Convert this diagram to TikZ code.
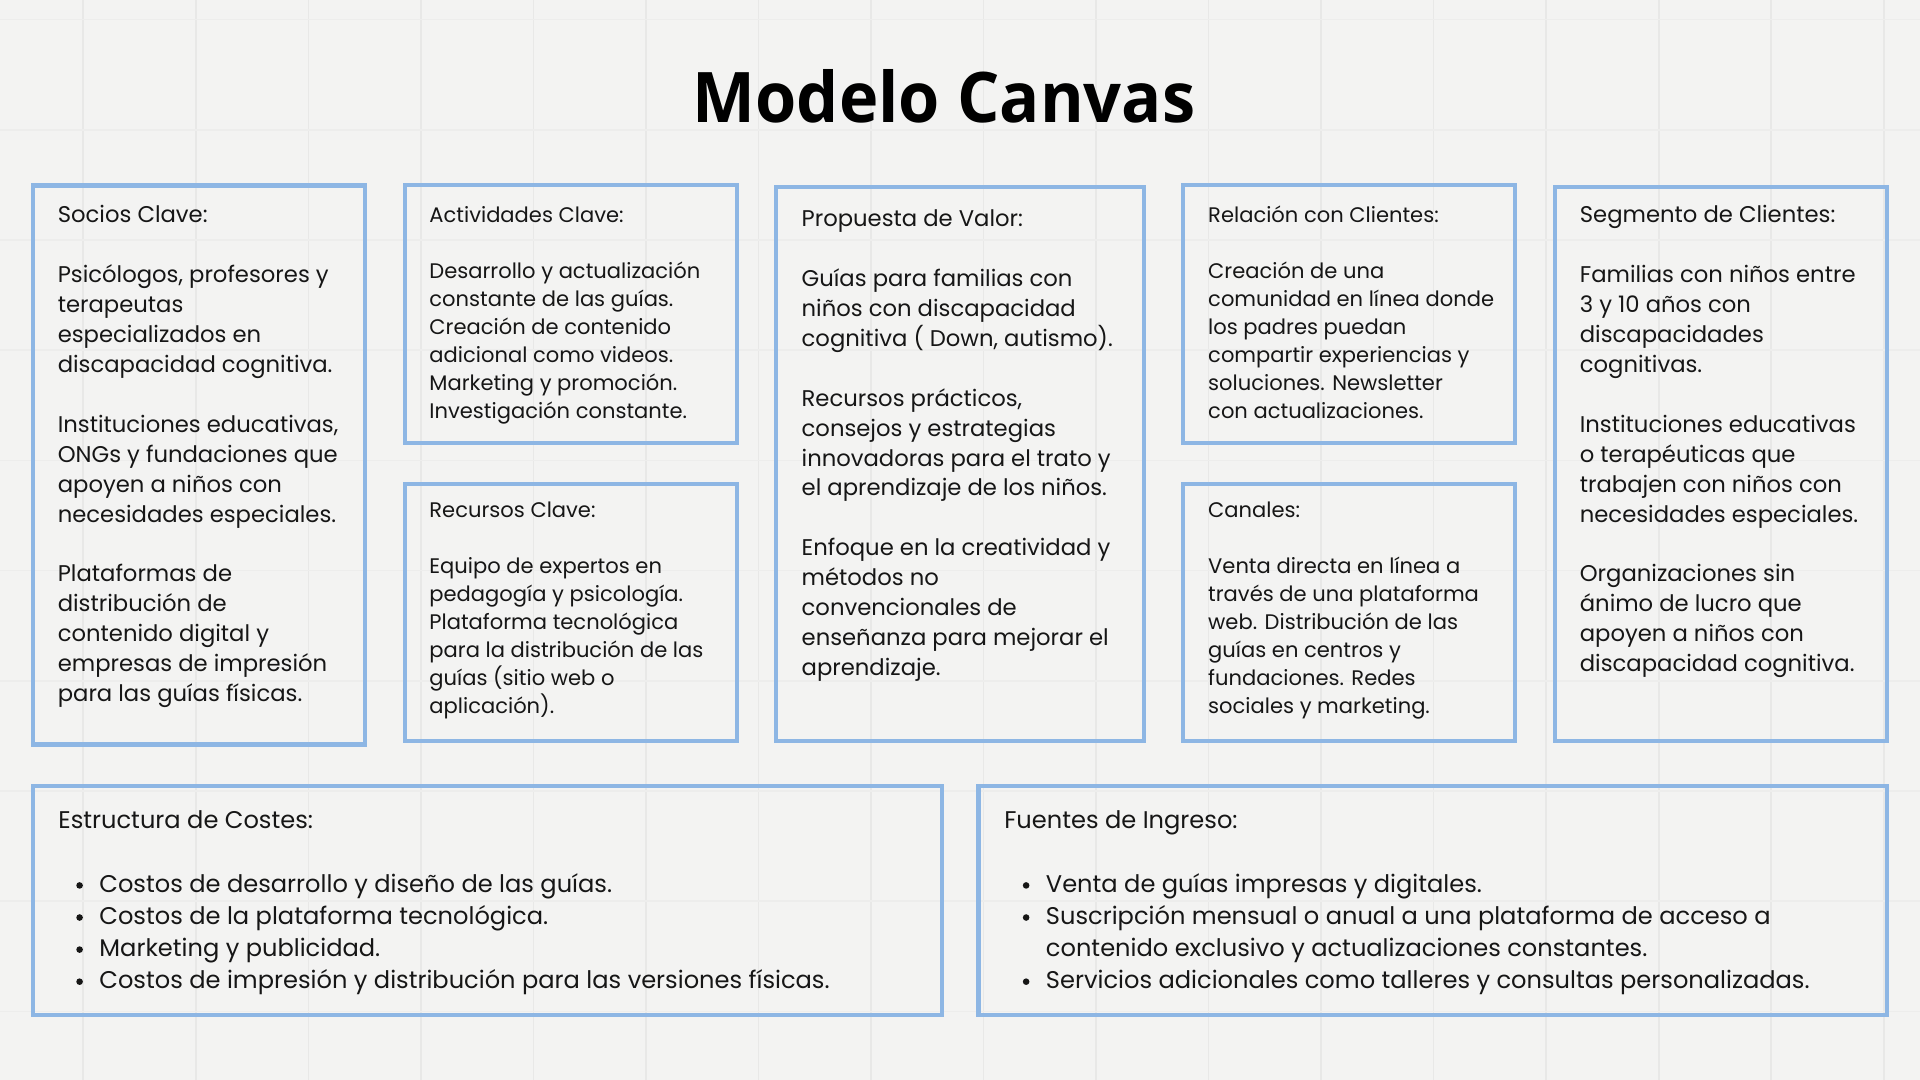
\documentclass[tikz,border=0pt]{standalone}
\usepackage{fontspec}
\setmainfont{Poppins}
\newfontfamily\titlefont{Open Sans}
\definecolor{bg}{RGB}{243,243,242}
\definecolor{gridc}{RGB}{232,232,231}
\definecolor{gridh}{RGB}{237,237,236}
\definecolor{framec}{RGB}{141,182,228}
\definecolor{ink}{RGB}{22,22,22}
\tikzset{
  boxframe/.style={draw=framec, line width=3.5pt},
  gridv/.style={draw=gridc, line width=1.3pt},
  gridhl/.style={draw=gridh, line width=1.3pt},
  txtA/.style={anchor=base west, inner sep=0pt, text=ink, font=\fontsize{18.55}{22}\selectfont},
  txtB/.style={anchor=base west, inner sep=0pt, text=ink, font=\fontsize{17.2}{20}\selectfont},
  txtC/.style={anchor=base west, inner sep=0pt, text=ink, font=\fontsize{19.7}{23}\selectfont},
  bulletdot/.style={fill=ink},
  titletxt/.style={anchor=base, inner sep=0pt, text=black, xscale=0.955, font=\titlefont\bfseries\fontsize{57}{62}\selectfont}
}
\newcommand\linesat[6]{%
  \foreach \i/\t in {#6} {\node[#2] (#1\i) at (#3, {#4+\i*#5}) {\t};}%
}
\begin{document}
\begin{tikzpicture}[x=1pt,y=-1pt]
\useasboundingbox (0,0) rectangle (1568,882);
\fill[bg] (0,0) rectangle (1568,882);
% faint paper grid
\foreach \k in {0,...,16} {\draw[gridv] ({68+\k*91.9},0) -- ({68+\k*91.9},882);}
\foreach \k in {0,...,9} {\draw[gridhl] (0,{16+\k*90}) -- (1568,{16+\k*90});}

% title
\node[titletxt] (title) at (771,100) {Modelo Canvas};

% frames
\draw[boxframe] (27,151.5) rectangle (298,608);
\draw[boxframe] (331,151) rectangle (602,362);
\draw[boxframe] (331,395) rectangle (602,605);
\draw[boxframe] (634,153) rectangle (934,605);
\draw[boxframe] (966,151) rectangle (1237,362);
\draw[boxframe] (966,395) rectangle (1237,605);
\draw[boxframe] (1270,153) rectangle (1541,605);
\draw[boxframe] (27,642) rectangle (769,829);
\draw[boxframe] (799,642) rectangle (1541,829);

% Socios Clave
\linesat{soc}{txtA}{47}{181.8}{24.45}{0/{Socios Clave:},
  2/{Psicólogos, profesores y}, 3/{terapeutas}, 4/{especializados en}, 5/{discapacidad cognitiva.},
  7/{Instituciones educativas,}, 8/{ONGs y fundaciones que}, 9/{apoyen a niños con}, 10/{necesidades especiales.},
  12/{Plataformas de}, 13/{distribución de}, 14/{contenido digital y}, 15/{empresas de impresión}, 16/{para las guías físicas.}}

% Actividades Clave
\linesat{act}{txtB}{350.5}{181.8}{22.86}{0/{Actividades Clave:},
  2/{Desarrollo y actualización}, 3/{constante de las guías.}, 4/{Creación de contenido},
  5/{adicional como videos.}, 6/{Marketing y promoción.}, 7/{Investigación constante.}}

% Recursos Clave
\linesat{rec}{txtB}{350.5}{422.8}{22.86}{0/{Recursos Clave:},
  2/{Equipo de expertos en}, 3/{pedagogía y psicología.}, 4/{Plataforma tecnológica},
  5/{para la distribución de las}, 6/{guías (sitio web o}, 7/{aplicación).}}

% Propuesta de Valor
\linesat{pro}{txtA}{654.5}{185}{24.45}{0/{Propuesta de Valor:},
  2/{Guías para familias con}, 3/{niños con discapacidad}, 4/{cognitiva ( Down, autismo).},
  6/{Recursos prácticos,}, 7/{consejos y estrategias}, 8/{innovadoras para el trato y}, 9/{el aprendizaje de los niños.},
  11/{Enfoque en la creatividad y}, 12/{métodos no}, 13/{convencionales de}, 14/{enseñanza para mejorar el}, 15/{aprendizaje.}}

% Relacion con Clientes
\linesat{rel}{txtB}{986.5}{181.8}{22.86}{0/{Relación con Clientes:},
  2/{Creación de una}, 3/{comunidad en línea donde}, 4/{los padres puedan},
  5/{compartir experiencias y}, 6/{soluciones. Newsletter}, 7/{con actualizaciones.}}

% Canales
\linesat{can}{txtB}{986.5}{422.8}{22.86}{0/{Canales:},
  2/{Venta directa en línea a}, 3/{través de una plataforma}, 4/{web. Distribución de las},
  5/{guías en centros y}, 6/{fundaciones. Redes}, 7/{sociales y marketing.}}

% Segmento de Clientes
\linesat{seg}{txtA}{1290}{181.8}{24.45}{0/{Segmento de Clientes:},
  2/{Familias con niños entre}, 3/{3 y 10 años con}, 4/{discapacidades}, 5/{cognitivas.},
  7/{Instituciones educativas}, 8/{o terapéuticas que}, 9/{trabajen con niños con}, 10/{necesidades especiales.},
  12/{Organizaciones sin}, 13/{ánimo de lucro que}, 14/{apoyen a niños con}, 15/{discapacidad cognitiva.}}

% Estructura de Costes
\node[txtC] (cos0) at (47.5,676.5) {Estructura de Costes:};
\linesat{cos}{txtC}{81}{676.5}{26.2}{2/{Costos de desarrollo y diseño de las guías.},
  3/{Costos de la plataforma tecnológica.}, 4/{Marketing y publicidad.},
  5/{Costos de impresión y distribución para las versiones físicas.}}
\foreach \i in {2,...,5} {\fill[bulletdot] (65,{676.5+\i*26.2-5.8}) circle (2.7);}

% Fuentes de Ingreso
\node[txtC] (ing0) at (820,676.5) {Fuentes de Ingreso:};
\linesat{ing}{txtC}{854}{676.5}{26.2}{2/{Venta de guías impresas y digitales.},
  3/{Suscripción mensual o anual a una plataforma de acceso a},
  4/{contenido exclusivo y actualizaciones constantes.},
  5/{Servicios adicionales como talleres y consultas personalizadas.}}
\foreach \i in {2,3,5} {\fill[bulletdot] (838,{676.5+\i*26.2-5.8}) circle (2.7);}
\end{tikzpicture}
\end{document}
